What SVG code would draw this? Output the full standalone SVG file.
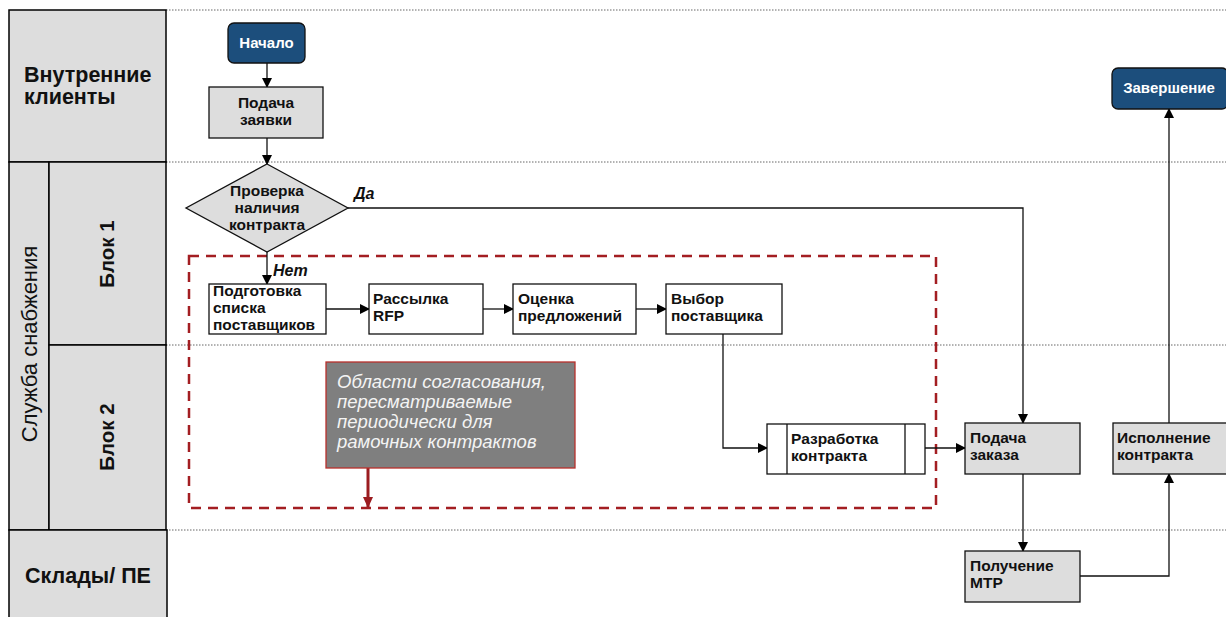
<svg xmlns="http://www.w3.org/2000/svg" width="1226" height="617" viewBox="0 0 1226 617">
<style>
.lane{fill:#dddddd;stroke:#000;stroke-width:1.5}
.dot{stroke:#666;stroke-width:1;stroke-dasharray:1.5 1.5}
.lbl{font-family:"Liberation Sans",Arial,sans-serif;font-weight:bold;font-size:21.5px;fill:#111}
.box{fill:#dddddd;stroke:#111;stroke-width:1.3}
.wbox{fill:#fff;stroke:#111;stroke-width:1.3}
.term{fill:#1c4e7c;stroke:#111;stroke-width:1.3}
.t{font-family:"Liberation Sans",Arial,sans-serif;font-weight:bold;font-size:15.5px;fill:#111}
.tw{font-family:"Liberation Sans",Arial,sans-serif;font-weight:bold;font-size:15px;fill:#fff}
.yn{font-family:"Liberation Sans",Arial,sans-serif;font-weight:bold;font-style:italic;font-size:16px;fill:#111}
.note{font-family:"Liberation Sans",Arial,sans-serif;font-style:italic;font-size:18.5px;fill:#f4f4f4}
.c{fill:none;stroke:#111;stroke-width:1.3}
</style>
<defs>
<marker id="ah" markerWidth="10" markerHeight="10" refX="9" refY="5" orient="auto" markerUnits="userSpaceOnUse">
<path d="M0,0 L10,5 L0,10 Z" fill="#000"/>
</marker>
<marker id="rah" markerWidth="12" markerHeight="12" refX="10" refY="6" orient="auto" markerUnits="userSpaceOnUse">
<path d="M0,1 L11,6 L0,11 Z" fill="#9b1c20"/>
</marker>
</defs>
<rect width="1226" height="617" fill="#fff"/>
<g id="lanes">
<line class="dot" x1="166" y1="10" x2="1226" y2="10"/>
<line class="dot" x1="166" y1="162" x2="1226" y2="162"/>
<line class="dot" x1="166" y1="345" x2="1226" y2="345"/>
<line class="dot" x1="166" y1="530" x2="1226" y2="530"/>
<rect class="lane" x="9" y="10" width="157" height="152"/>
<rect class="lane" x="9" y="162" width="40" height="368"/>
<rect class="lane" x="49" y="162" width="117" height="183"/>
<rect class="lane" x="49" y="345" width="117" height="185"/>
<rect class="lane" x="9" y="530" width="158" height="95"/>
<text class="lbl" x="24" y="82">Внутренние</text>
<text class="lbl" x="24" y="104">клиенты</text>
<text class="lbl" style="font-weight:normal;font-size:22px" transform="translate(37,344) rotate(-90)" text-anchor="middle">Служба снабжения</text>
<text class="lbl" style="font-size:20.5px" transform="translate(114,254) rotate(-90)" text-anchor="middle">Блок 1</text>
<text class="lbl" style="font-size:20.5px" transform="translate(114,437) rotate(-90)" text-anchor="middle">Блок 2</text>
<text class="lbl" x="88" y="583" text-anchor="middle">Склады/ ПЕ</text>
</g>
<g id="region">
<rect x="189" y="256" width="747" height="252" fill="none" stroke="#a31e22" stroke-width="2.5" stroke-dasharray="10 7"/>
</g>
<g id="connectors">
<line class="c" x1="267" y1="63" x2="267" y2="87" marker-end="url(#ah)"/>
<line class="c" x1="267" y1="138" x2="267" y2="164" marker-end="url(#ah)"/>
<line class="c" x1="267" y1="252" x2="267" y2="284" marker-end="url(#ah)"/>
<polyline class="c" points="348,208 1023,208 1023,423" marker-end="url(#ah)"/>
<line class="c" x1="326" y1="309" x2="369" y2="309" stroke="#444" stroke-width="1.6" marker-end="url(#ah)"/>
<line class="c" x1="483" y1="309" x2="513" y2="309" stroke="#444" stroke-width="1.6" marker-end="url(#ah)"/>
<line class="c" x1="636" y1="309" x2="666" y2="309" stroke="#444" stroke-width="1.6" marker-end="url(#ah)"/>
<polyline class="c" points="723,334 723,448 767,448" marker-end="url(#ah)"/>
<line class="c" x1="925" y1="448" x2="965" y2="448" marker-end="url(#ah)"/>
<line class="c" x1="1023" y1="474" x2="1023" y2="551" marker-end="url(#ah)"/>
<polyline class="c" points="1080,576 1169,576 1169,474" marker-end="url(#ah)"/>
<line class="c" x1="1169" y1="423" x2="1169" y2="109" marker-end="url(#ah)"/>
<line x1="368" y1="468" x2="368" y2="507" stroke="#9b1c20" stroke-width="3" marker-end="url(#rah)"/>
</g>
<g id="start">
<rect class="term" x="228" y="23" width="77" height="40" rx="6"/>
<text class="tw" x="266.5" y="48" text-anchor="middle">Начало</text>
</g>
<g id="request">
<rect class="box" x="209" y="87" width="114" height="51"/>
<text class="t" x="266" y="108" text-anchor="middle">Подача</text>
<text class="t" x="266" y="125" text-anchor="middle">заявки</text>
</g>
<g id="check">
<polygon class="box" points="267,164 348,208 267,252 186,208"/>
<text class="t" x="267" y="196" text-anchor="middle">Проверка</text>
<text class="t" x="267" y="213" text-anchor="middle">наличия</text>
<text class="t" x="267" y="230" text-anchor="middle">контракта</text>
<text class="yn" x="354" y="199">Да</text>
<text class="yn" x="273" y="276">Нет</text>
</g>
<g id="prep">
<rect class="wbox" x="209" y="284" width="117" height="50"/>
<text class="t" x="213" y="296">Подготовка</text>
<text class="t" x="213" y="313">списка</text>
<text class="t" x="213" y="330">поставщиков</text>
</g>
<g id="rfp">
<rect class="wbox" x="369" y="284" width="114" height="50"/>
<text class="t" x="373" y="304">Рассылка</text>
<text class="t" x="373" y="321">RFP</text>
</g>
<g id="eval">
<rect class="wbox" x="513" y="284" width="123" height="50"/>
<text class="t" x="518" y="304">Оценка</text>
<text class="t" x="518" y="321">предложений</text>
</g>
<g id="select">
<rect class="wbox" x="666" y="284" width="116" height="50"/>
<text class="t" x="671" y="304">Выбор</text>
<text class="t" x="671" y="321">поставщика</text>
</g>
<g id="note">
<rect x="326" y="362" width="249" height="106" fill="#7f7f7f" stroke="#b8302c" stroke-width="1.3"/>
<text class="note" x="337" y="388">Области согласования,</text>
<text class="note" x="337" y="408">пересматриваемые</text>
<text class="note" x="337" y="428">периодически для</text>
<text class="note" x="337" y="448">рамочных контрактов</text>
</g>
<g id="develop">
<rect class="wbox" x="767" y="424" width="158" height="50"/>
<line class="c" x1="787" y1="424" x2="787" y2="474"/>
<line class="c" x1="905" y1="424" x2="905" y2="474"/>
<text class="t" x="791" y="444">Разработка</text>
<text class="t" x="791" y="461">контракта</text>
</g>
<g id="order">
<rect class="box" x="965" y="423" width="115" height="51"/>
<text class="t" x="970" y="443">Подача</text>
<text class="t" x="970" y="460">заказа</text>
</g>
<g id="execute">
<rect class="box" x="1113" y="423" width="115" height="51"/>
<text class="t" x="1117" y="443">Исполнение</text>
<text class="t" x="1117" y="460">контракта</text>
</g>
<g id="receive">
<rect class="box" x="965" y="551" width="115" height="51"/>
<text class="t" x="970" y="571">Получение</text>
<text class="t" x="970" y="588">МТР</text>
</g>
<g id="finish">
<rect class="term" x="1112" y="68" width="116" height="41" rx="6"/>
<text class="tw" x="1169" y="93" text-anchor="middle">Завершение</text>
</g>
</svg>
